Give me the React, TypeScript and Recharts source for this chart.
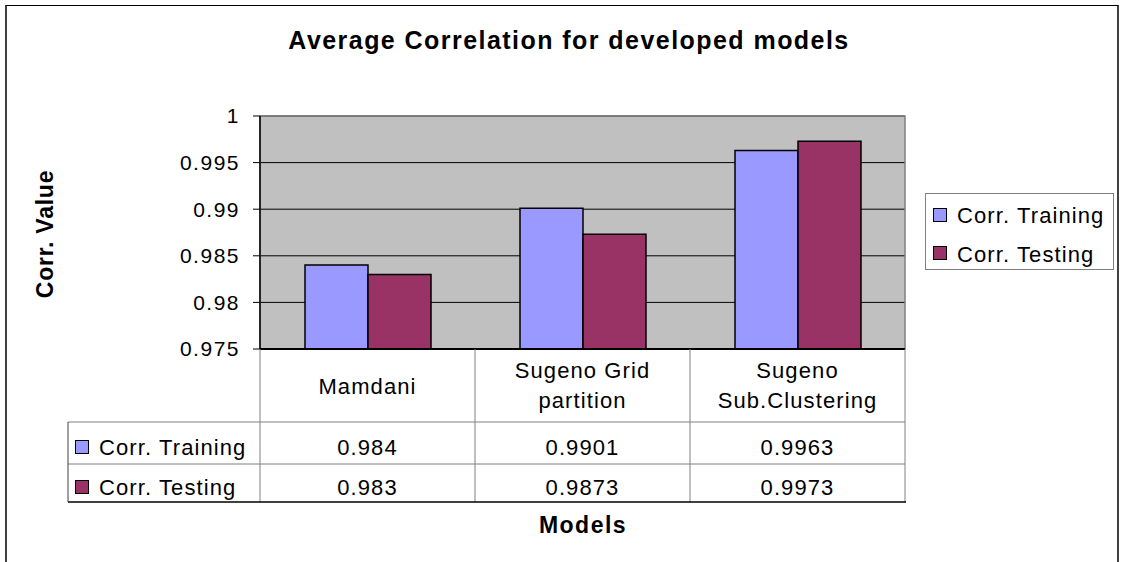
import { BarChart, Bar, XAxis, YAxis, CartesianGrid, ReferenceArea } from 'recharts'

// chart values
const categories = ['Mamdani', 'Sugeno Grid partition', 'Sugeno Sub.Clustering']
const categoryLines = [['Mamdani'], ['Sugeno Grid', 'partition'], ['Sugeno', 'Sub.Clustering']]
const corrTraining = [0.984, 0.9901, 0.9963]
const corrTesting = [0.983, 0.9873, 0.9973]
const seriesNames = ['Corr. Training', 'Corr. Testing']
const seriesColors = ['#9999FF', '#993366']
const yTicks = [0.975, 0.98, 0.985, 0.99, 0.995, 1]

const chartData = categories.map((name, i) => ({
  name,
  training: corrTraining[i],
  testing: corrTesting[i],
}))

const FONT = '"Liberation Sans", Arial, sans-serif'
const PLOT = { left: 260, top: 116, right: 905, bottom: 349 }
const BAND = (PLOT.right - PLOT.left) / categories.length
const TABLE = { left: 68, top: 422, mid: 464, bottom: 502 }
const textStyle = { fontFamily: FONT, fontSize: 22, letterSpacing: 1.1, fill: '#000' }

const CategoryTick = ({ x, payload }: any) => {
  const i = categories.indexOf(payload.value)
  const lines = categoryLines[i]
  const left = x - BAND / 2
  const right = x + BAND / 2
  return (
    <g>
      {i === 0 && <line x1={left} y1={PLOT.bottom} x2={left} y2={TABLE.bottom} stroke="#808080" />}
      <line x1={right} y1={PLOT.bottom} x2={right} y2={TABLE.bottom} stroke="#808080" />
      {lines.map((l, k) => (
        <text key={k} x={x} y={lines.length === 1 ? 394 : 378 + k * 30} textAnchor="middle" style={textStyle}>
          {l}
        </text>
      ))}
      <text x={x} y={455} textAnchor="middle" style={textStyle}>{corrTraining[i]}</text>
      <text x={x} y={495} textAnchor="middle" style={textStyle}>{corrTesting[i]}</text>
    </g>
  )
}

export default function App() {
  return (
    <div style={{ position: 'absolute', left: 0, top: 0, width: 1124, height: 562, background: '#fff', overflow: 'hidden' }}>
      <div
        style={{
          position: 'absolute', left: 5, top: 5, width: 1110, height: 620,
          borderTop: '1px solid #000', borderLeft: '2px solid #404040', borderRight: '2px solid #404040',
        }}
      />
      <div style={{ position: 'absolute', left: 0, top: 0 }}>
        <BarChart
          width={1124}
          height={562}
          data={chartData}
          margin={{ top: PLOT.top, right: 1124 - PLOT.right, bottom: 0, left: 0 }}
          barCategoryGap={45}
          barGap={0}
        >
          <CartesianGrid vertical={false} stroke="#000" fill="#C0C0C0" fillOpacity={1} />
          <ReferenceArea y1={0.975} y2={1} fill="none" stroke="#808080" strokeWidth={1.5} />
          <XAxis
            dataKey="name"
            height={562 - PLOT.bottom}
            interval={0}
            tickLine={false}
            axisLine={{ stroke: '#000', strokeWidth: 2 }}
            tick={(p: any) => <CategoryTick {...p} />}
          />
          <YAxis
            width={PLOT.left}
            domain={[0.975, 1]}
            ticks={yTicks}
            allowDataOverflow
            tickSize={7}
            tickMargin={13}
            axisLine={{ stroke: '#000', strokeWidth: 1.5 }}
            tickLine={{ stroke: '#000' }}
            tick={{ fill: '#000', fontSize: 21, fontFamily: FONT, letterSpacing: 1.5 }}
          />
          <Bar dataKey="training" name={seriesNames[0]} fill={seriesColors[0]} stroke="#000" strokeWidth={1.5} isAnimationActive={false} />
          <Bar dataKey="testing" name={seriesNames[1]} fill={seriesColors[1]} stroke="#000" strokeWidth={1.5} isAnimationActive={false} />
        </BarChart>
      </div>
      <svg width={1124} height={562} style={{ position: 'absolute', left: 0, top: 0, pointerEvents: 'none' }}>
        <text x={569} y={49} textAnchor="middle" style={{ fontFamily: FONT, fontSize: 25, fontWeight: 'bold', letterSpacing: 1.45 }}>
          Average Correlation for developed models
        </text>
        <text
          transform="translate(53,234) rotate(-90)"
          textAnchor="middle"
          style={{ fontFamily: FONT, fontSize: 23, fontWeight: 'bold', letterSpacing: 0.75 }}
        >
          Corr. Value
        </text>
        <text x={583} y={533} textAnchor="middle" style={{ fontFamily: FONT, fontSize: 23, fontWeight: 'bold', letterSpacing: 1.5 }}>
          Models
        </text>
        {/* legend */}
        <rect x={925.5} y={193.5} width={188} height={76} fill="#fff" stroke="#808080" />
        {seriesNames.map((s, i) => (
          <g key={'lg' + s}>
            <rect x={933.5} y={208.5 + i * 38} width={13} height={13} fill={seriesColors[i]} stroke="#000" />
            <text x={957} y={223 + i * 39} style={textStyle}>{s}</text>
          </g>
        ))}
        {/* data table rows */}
        <line x1={TABLE.left} y1={TABLE.top} x2={PLOT.right} y2={TABLE.top} stroke="#808080" />
        <line x1={TABLE.left} y1={TABLE.mid} x2={PLOT.right} y2={TABLE.mid} stroke="#808080" />
        <line x1={TABLE.left} y1={TABLE.bottom} x2={PLOT.right + 1} y2={TABLE.bottom} stroke="#000" strokeWidth={1.5} />
        <line x1={TABLE.left} y1={TABLE.top} x2={TABLE.left} y2={TABLE.bottom} stroke="#404040" />
        {seriesNames.map((s, i) => (
          <g key={s}>
            <rect x={75.5} y={440.5 + i * 40} width={13} height={13} fill={seriesColors[i]} stroke="#000" />
            <text x={99} y={455 + i * 40} style={textStyle}>{s}</text>
          </g>
        ))}
      </svg>
    </div>
  )
}
